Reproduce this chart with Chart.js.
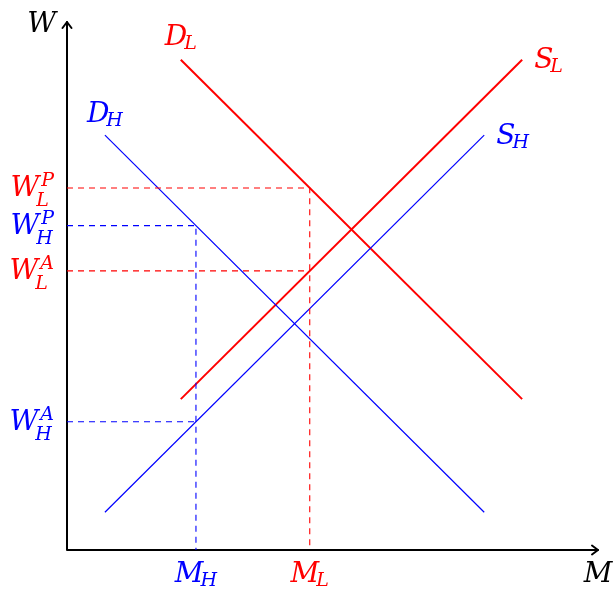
<!DOCTYPE html>
<html>
<head>
<meta charset="utf-8">
<script src="https://cdn.jsdelivr.net/npm/chart.js@4/dist/chart.umd.min.js"></script>
<style>
  body { margin: 0; background: #fff; }
  #wrap { width: 613px; height: 591px; }
</style>
</head>
<body>
<div id="wrap"><canvas id="labourChart" width="613" height="591"></canvas></div>
<script>
// end points of the four curves (market units)
const lowX = [3, 12];
const demandLowY = [13, 4];
const supplyLowY = [4, 13];
const highX = [1, 11];
const demandHighY = [11, 1];
const supplyHighY = [1, 11];

// levels marked by the dashed guides
const mH = 3.4;
const mL = 6.4;
const wLP = 9.6;
const wHP = 8.6;
const wLA = 7.4;
const wHA = 3.4;

const axisMax = 14;
const red = '#ff0000';
const blue = '#0000ff';
const mainFont = 'italic 28px "DejaVu Serif"';
const smallFont = 'italic 19px "DejaVu Serif"';

function pts(xs, ys) {
  return xs.map((x, i) => ({ x: x, y: ys[i] }));
}

function solid(data, color, width) {
  return { data: data, borderColor: color, borderWidth: width, showLine: true, pointRadius: 0, clip: false };
}

function dashed(data, color) {
  return { data: data, borderColor: color, borderWidth: 1.1, borderDash: [6, 5], showLine: true, pointRadius: 0, clip: false };
}

// labels: anchor in data units, text pieces, placement
const labels = [
  { x: 0, y: axisMax, main: 'W', color: '#000', align: 'right', dx: -11, dy: 10 },
  { x: axisMax, y: 0, main: 'M', color: '#000', align: 'center', dx: 0, dy: 32 },
  { x: mH, y: 0, main: 'M', sub: 'H', color: blue, align: 'center', dx: 0, dy: 32 },
  { x: mL, y: 0, main: 'M', sub: 'L', color: red, align: 'center', dx: 0, dy: 32 },
  { x: lowX[0], y: demandLowY[0], main: 'D', sub: 'L', color: red, align: 'center', dx: 0, dy: -15 },
  { x: highX[0], y: demandHighY[0], main: 'D', sub: 'H', color: blue, align: 'center', dx: 0, dy: -13 },
  { x: lowX[1], y: supplyLowY[1], main: 'S', sub: 'L', color: red, align: 'left', dx: 12, dy: 8 },
  { x: highX[1], y: supplyHighY[1], main: 'S', sub: 'H', color: blue, align: 'left', dx: 12, dy: 9 },
  { x: 0, y: wLP, main: 'W', sub: 'L', sup: 'P', color: red, align: 'right', dx: -13, dy: 8 },
  { x: 0, y: wHP, main: 'W', sub: 'H', sup: 'P', color: blue, align: 'right', dx: -13, dy: 8 },
  { x: 0, y: wLA, main: 'W', sub: 'L', sup: 'A', color: red, align: 'right', dx: -13, dy: 8 },
  { x: 0, y: wHA, main: 'W', sub: 'H', sup: 'A', color: blue, align: 'right', dx: -13, dy: 8 },
];

function drawMath(ctx, lab, px, py) {
  ctx.font = mainFont;
  const mw = ctx.measureText(lab.main).width;
  ctx.font = smallFont;
  const subW = lab.sub ? ctx.measureText(lab.sub).width - 3 : 0;
  const supW = lab.sup ? ctx.measureText(lab.sup).width + 2 : 0;
  const total = mw + Math.max(subW, supW);
  let left;
  if (lab.align === 'right') left = px + lab.dx - total;
  else if (lab.align === 'left') left = px + lab.dx;
  else left = px + lab.dx - total / 2;
  const base = py + lab.dy;
  ctx.fillStyle = lab.color;
  ctx.textBaseline = 'alphabetic';
  ctx.textAlign = 'left';
  ctx.font = mainFont;
  ctx.fillText(lab.main, left, base);
  ctx.font = smallFont;
  if (lab.sub) ctx.fillText(lab.sub, left + mw - 3, base + (lab.sup ? 10 : 4));
  if (lab.sup) ctx.fillText(lab.sup, left + mw + 2, base - 10);
}

// axes with open arrow heads
const axesPlugin = {
  id: 'axes',
  beforeDatasetsDraw(chart) {
    const ctx = chart.ctx;
    const xs = chart.scales.x;
    const ys = chart.scales.y;
    const x0 = xs.getPixelForValue(0);
    const y0 = ys.getPixelForValue(0);
    const xEnd = xs.getPixelForValue(axisMax);
    const yEnd = ys.getPixelForValue(axisMax);
    ctx.save();
    ctx.strokeStyle = '#000';
    ctx.lineWidth = 2;
    ctx.lineCap = 'round';
    ctx.lineJoin = 'round';
    ctx.beginPath();
    ctx.moveTo(x0, yEnd);
    ctx.lineTo(x0, y0);
    ctx.lineTo(xEnd, y0);
    ctx.stroke();
    ctx.beginPath();
    ctx.moveTo(x0 - 4.5, yEnd + 6);
    ctx.lineTo(x0, yEnd);
    ctx.lineTo(x0 + 4.5, yEnd + 6);
    ctx.moveTo(xEnd - 6, y0 - 4.5);
    ctx.lineTo(xEnd, y0);
    ctx.lineTo(xEnd - 6, y0 + 4.5);
    ctx.stroke();
    ctx.restore();
  },
  afterDraw(chart) {
    const ctx = chart.ctx;
    ctx.save();
    labels.forEach((lab) => {
      drawMath(ctx, lab, chart.scales.x.getPixelForValue(lab.x), chart.scales.y.getPixelForValue(lab.y));
    });
    ctx.restore();
  },
};

new Chart(document.getElementById('labourChart'), {
  type: 'scatter',
  data: {
    datasets: [
      dashed([{ x: 0, y: wLP }, { x: mL, y: wLP }, { x: mL, y: 0 }], red),
      dashed([{ x: 0, y: wLA }, { x: mL, y: wLA }], red),
      dashed([{ x: 0, y: wHP }, { x: mH, y: wHP }, { x: mH, y: 0 }], blue),
      dashed([{ x: 0, y: wHA }, { x: mH, y: wHA }], blue),
      solid(pts(highX, demandHighY), blue, 1.2),
      solid(pts(highX, supplyHighY), blue, 1.2),
      solid(pts(lowX, demandLowY), red, 2),
      solid(pts(lowX, supplyLowY), red, 2),
    ],
  },
  options: {
    responsive: false,
    animation: false,
    layout: { padding: { left: 67, right: 15, top: 22, bottom: 41 } },
    plugins: { legend: { display: false }, tooltip: { enabled: false } },
    scales: {
      x: { type: 'linear', min: 0, max: axisMax, display: false },
      y: { type: 'linear', min: 0, max: axisMax, display: false },
    },
  },
  plugins: [axesPlugin],
});
</script>
</body>
</html>
